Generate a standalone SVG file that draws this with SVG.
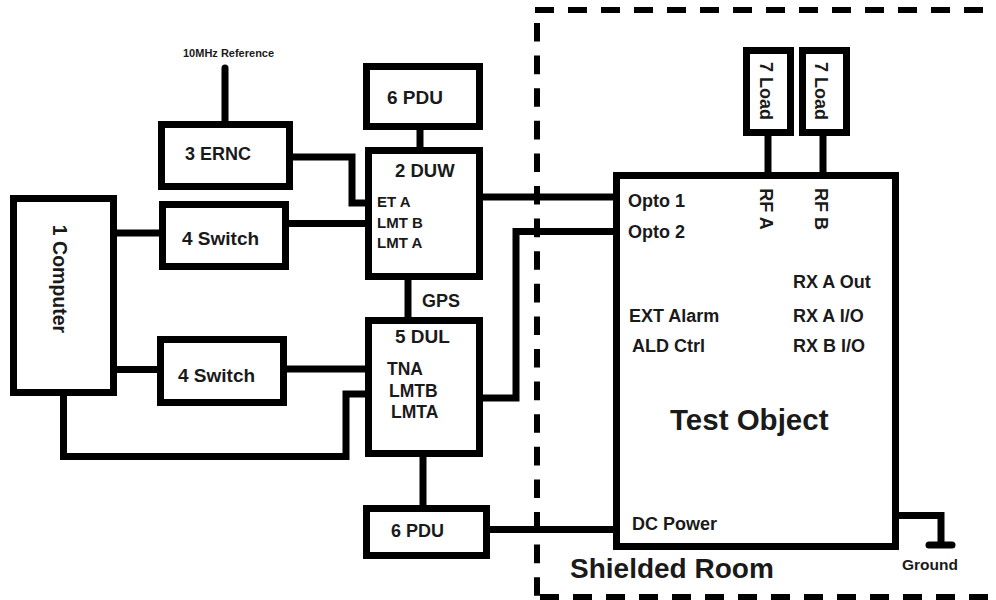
<svg xmlns="http://www.w3.org/2000/svg" width="996" height="600" viewBox="0 0 996 600">
<style>
.box{fill:#fff;stroke:#000;stroke-width:7}
.c{fill:none;stroke:#000;stroke-width:7;stroke-linejoin:miter}
.dash{fill:none;stroke:#000;stroke-width:6}
text{font-family:"Liberation Sans",Arial,sans-serif;font-weight:bold;fill:#1a1a1a}
.l{font-size:18px}
.s{font-size:15px}
.m{font-size:17.5px}
</style>
<rect width="996" height="600" fill="#fff"/>
<g id="shielded-room">
<path class="dash" d="M535 10 H996" stroke-dasharray="19 14"/>
<path class="dash" d="M537 23 V600" stroke-dasharray="18.6 14"/>
<path class="dash" d="M540 597 H996" stroke-dasharray="19 14"/>
<text x="570" y="578" style="font-size:28px">Shielded Room</text>
</g>
<g id="connectors">
<path class="c" d="M225 68 V122" stroke-linecap="round"/>
<path class="c" d="M293 157 H352 V203 H368"/>
<path class="c" d="M289 223.5 H368"/>
<path class="c" d="M117 233 H159"/>
<path class="c" d="M117 369.5 H157"/>
<path class="c" d="M287 369 H368"/>
<path class="c" d="M63.5 396 V456.5 H346 V394 H368"/>
<path class="c" d="M420 130 V148"/>
<path class="c" d="M408 280 V318"/>
<path class="c" d="M423 456 V506"/>
<path class="c" d="M483 197 H614"/>
<path class="c" d="M483 398 H516 V231.5 H614"/>
<path class="c" d="M490 529.5 H614"/>
<path class="c" d="M768 136 V173"/>
<path class="c" d="M823 136 V173"/>
<path class="c" d="M899 515.5 H941 V545"/>
<path class="c" d="M929 545 H952" stroke-linecap="round"/>
<text x="183" y="57" style="font-size:11px">10MHz Reference</text>
<text x="422" y="307" style="font-size:18px">GPS</text>
<text x="902" y="570" style="font-size:15.5px">Ground</text>
</g>
<g id="ernc">
<rect class="box" x="161.5" y="124.5" width="128" height="62"/>
<text class="l" x="185" y="160">3 ERNC</text>
</g>
<g id="pdu-top">
<rect class="box" x="366.5" y="66.5" width="113" height="60"/>
<text x="387" y="104" style="font-size:19px">6 PDU</text>
</g>
<g id="duw">
<rect class="box" x="368.5" y="150.5" width="111" height="126"/>
<text x="395" y="177" style="font-size:18.5px">2 DUW</text>
<text class="s" x="377" y="207">ET A</text>
<text class="s" x="377" y="228">LMT B</text>
<text class="s" x="377" y="248">LMT A</text>
</g>
<g id="switch-top">
<rect class="box" x="162.5" y="204.5" width="123" height="62"/>
<text x="182" y="245" style="font-size:19px">4 Switch</text>
</g>
<g id="computer">
<rect class="box" x="13.5" y="198.5" width="100" height="194"/>
<text transform="translate(53 279) rotate(90)" text-anchor="middle" style="font-size:19.5px">1 Computer</text>
</g>
<g id="dul">
<rect class="box" x="368.5" y="320.5" width="111" height="133"/>
<text x="395" y="343" style="font-size:19px">5 DUL</text>
<text class="m" x="387" y="375">TNA</text>
<text class="m" x="389" y="397">LMTB</text>
<text class="m" x="391" y="418">LMTA</text>
</g>
<g id="switch-bottom">
<rect class="box" x="160.5" y="339.5" width="123" height="63"/>
<text x="178" y="382" style="font-size:19px">4 Switch</text>
</g>
<g id="pdu-bottom">
<rect class="box" x="366.5" y="508.5" width="120" height="47"/>
<text x="391" y="537" style="font-size:18px">6 PDU</text>
</g>
<g id="load-a">
<rect class="box" x="746.5" y="50.5" width="44" height="82"/>
<text transform="translate(760 91) rotate(90)" text-anchor="middle" style="font-size:18px">7 Load</text>
</g>
<g id="load-b">
<rect class="box" x="802.5" y="50.5" width="44" height="82"/>
<text transform="translate(815 91) rotate(90)" text-anchor="middle" style="font-size:18px">7 Load</text>
</g>
<g id="test-object">
<rect class="box" x="616.5" y="175.5" width="279" height="371"/>
<text class="l" x="628" y="207">Opto 1</text>
<text class="l" x="628" y="238">Opto 2</text>
<text transform="translate(760 209) rotate(90)" text-anchor="middle" style="font-size:18px">RF A</text>
<text transform="translate(815 209) rotate(90)" text-anchor="middle" style="font-size:18px">RF B</text>
<text class="l" x="793" y="288">RX A Out</text>
<text class="l" x="793" y="322">RX A I/O</text>
<text class="l" x="793" y="352">RX B I/O</text>
<text class="l" x="629" y="322">EXT Alarm</text>
<text class="l" x="632" y="352">ALD Ctrl</text>
<text x="670" y="430" style="font-size:29.5px">Test Object</text>
<text class="l" x="632" y="530">DC Power</text>
</g>
</svg>
